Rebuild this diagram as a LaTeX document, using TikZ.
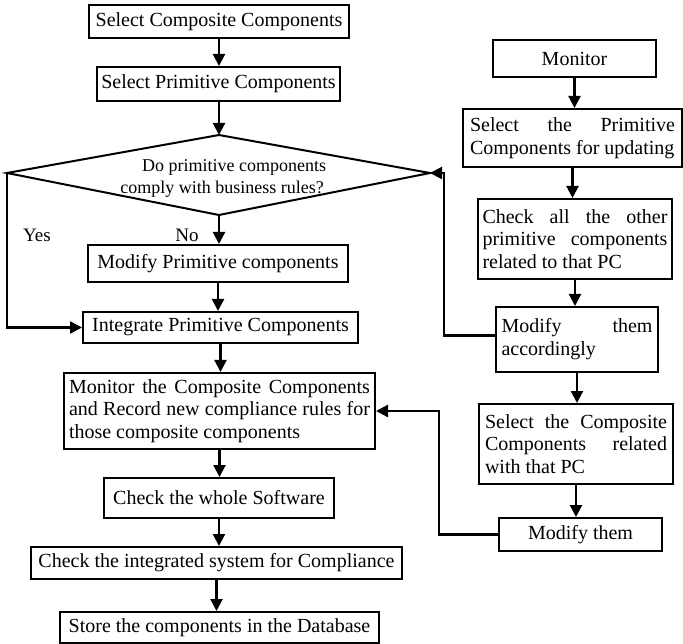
\documentclass[tikz,border=0pt]{standalone}
\usepackage{fontspec}
\setmainfont{Liberation Serif}
\usetikzlibrary{arrows.meta}
\newcommand\jline[1]{\hbox to \hsize{#1}}
\begin{document}
\begin{tikzpicture}[x=1pt,y=-1pt,
  box/.style={draw, line width=2pt, inner xsep=3pt, inner ysep=0pt,
              font=\fontsize{20}{22.8}\selectfont},
  mbox/.style={box, align=flush left},
  arr/.style={line width=2.2pt, -{Triangle[length=12pt,width=12pt]}},
  lbl/.style={font=\fontsize{19}{22}\selectfont, inner sep=0pt}]
\useasboundingbox (0,0) rectangle (683,644);

% ---------- left column ----------
\node[box, minimum width=260pt, minimum height=33pt] (b1) at (219,21.5) {Select Composite Components};
\node[box, minimum width=243pt, minimum height=34pt] (b2) at (218.5,84) {Select Primitive Components};

\coordinate (dtop) at (219,135);
\coordinate (dbot) at (219,215);
\coordinate (dleft) at (7,173);
\coordinate (dright) at (430,173);
\draw[line width=2pt, line join=miter] (dtop) -- (dright) -- (dbot) -- (dleft) -- cycle;
\node[align=center, inner sep=0pt, font=\fontsize{18}{22}\selectfont] (dtext) at (222,178)
  {\hspace*{24pt}Do primitive components\\comply with business rules?};

\node[box, minimum width=260pt, minimum height=37pt] (b3) at (218,263.5) {Modify Primitive components};
\node[box, minimum width=275pt, minimum height=31pt] (b4) at (220.5,327.5) {Integrate Primitive Components};
\node[mbox, inner xsep=5pt, text width=301pt, minimum height=76pt] (b5) at (219.5,411)
  {\jline{Monitor\hfill the\hfill Composite\hfill Components}
   \jline{and\hfill Record\hfill new\hfill compliance\hfill rules\hfill for}
   \hbox{those composite components}};
\node[box, minimum width=230pt, minimum height=40pt] (b6) at (219,498) {Check the whole Software};
\node[box, minimum width=371pt, minimum height=32pt] (b7) at (216.5,563) {Check the integrated system for Compliance};
\node[box, minimum width=319pt, minimum height=31pt] (b8) at (219.5,627.5) {Store the components in the Database};

\node[lbl] (yes) at (37,235) {Yes};
\node[lbl] (no) at (187,235) {No};

% ---------- right column ----------
\node[box, minimum width=163pt, minimum height=37pt] (r1) at (574.5,58.5) {Monitor};
\node[mbox, inner xsep=7pt, text width=205pt, minimum height=58pt] (r2) at (572.5,138)
  {\jline{Select\hfill the\hfill Primitive}
   \hbox{Components for updating}};
\node[mbox, inner xsep=4.5pt, text width=185pt, minimum height=80pt] (r3) at (575,239)
  {\jline{Check\hfill all\hfill the\hfill other}
   \jline{primitive\hfill components}
   \hbox{related to that PC}};
\node[mbox, inner xsep=5.5pt, text width=151pt, minimum height=65pt] (r4) at (577,339.5)
  {\jline{Modify\hfill them}
   \hbox{accordingly}};
\node[mbox, inner xsep=6pt, text width=182pt, minimum height=80pt] (r5) at (576,444)
  {\jline{Select\hfill the\hfill Composite}
   \jline{Components\hfill related}
   \hbox{with that PC}};
\node[box, minimum width=163pt, minimum height=33pt] (r6) at (580.5,534.5) {Modify them};

\coordinate (c1) at (444,173);
\coordinate (c2) at (439,411);

% ---------- connectors ----------
\draw[arr] (b1.south) -- (b1.south |- b2.north);
\draw[arr] (b2.south -| dtop) -- (dtop);
\draw[arr] (dbot) -- (dbot |- b3.north);
\draw[arr] (b3.south) -- (b3.south |- b4.north);
\draw[arr] (b4.south) -- (b4.south |- b5.north);
\draw[arr] (b5.south) -- (b5.south |- b6.north);
\draw[arr] (b6.south) -- (b6.south |- b7.north);
\draw[arr] (b7.south) -- (b7.south |- b8.north);
\draw[arr] (dleft) |- (b4.west);

\draw[arr] (r1.south) -- (r1.south |- r2.north);
\draw[arr] (r2.south) -- (r2.south |- r3.north);
\draw[arr] (r3.south) -- (r3.south |- r4.north);
\draw[arr] (r4.south) -- (r4.south |- r5.north);
\draw[arr] (r5.south) -- (r5.south |- r6.north);

\draw[arr] ([yshift=4pt]r4.west) -| (c1) -- (dright);
\draw[arr] (r6.west) -| (c2) -- (b5.east);
\end{tikzpicture}
\end{document}
